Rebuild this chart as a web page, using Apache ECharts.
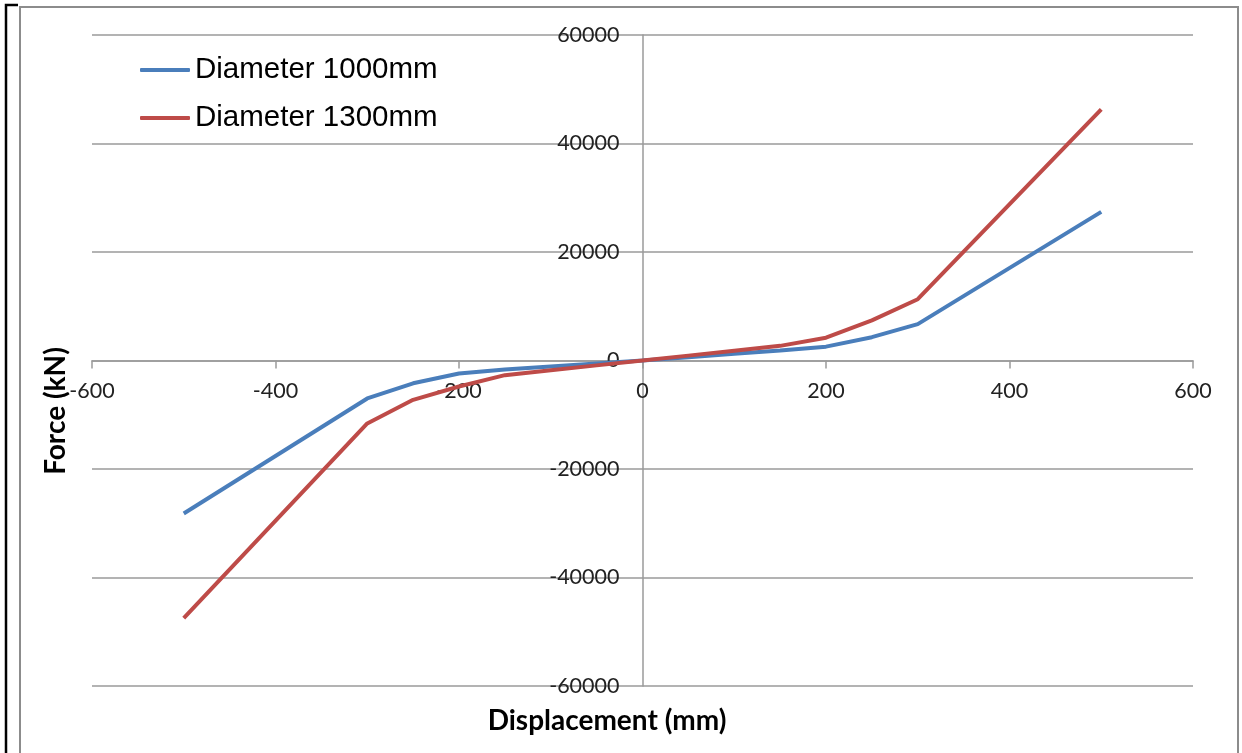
<!DOCTYPE html>
<html>
<head>
<meta charset="utf-8">
<script src="https://cdn.jsdelivr.net/npm/echarts@6/dist/echarts.min.js"></script>
<style>
html,body{margin:0;padding:0;background:#fff;}
#c{width:1242px;height:753px;}
</style>
</head>
<body>
<div id="c"></div>
<script>
var displacement = [-500, -300, -250, -200, -150, -100, -50, 0, 50, 100, 150, 200, 250, 300, 500];
var force1000 = [-28200, -7000, -4200, -2400, -1650, -1100, -550, 0, 600, 1250, 1850, 2550, 4300, 6700, 27400];
var force1300 = [-47500, -11600, -7250, -4800, -2700, -1800, -900, 0, 900, 1800, 2700, 4200, 7400, 11300, 46300];
var seriesNames = ['Diameter 1000mm', 'Diameter 1300mm'];
var xTitle = 'Displacement (mm)';
var yTitle = 'Force (kN)';

function pairs(ys){ return displacement.map(function(x,i){ return [x, ys[i]]; }); }

var chart = echarts.init(document.getElementById('c'), null, {renderer:'canvas'});
var axisFont = 'Lato, "Liberation Sans", sans-serif';
var gl = 92, gr = 49, gt = 35, gb = 67;
var W = 1242, H = 753;
var plotW = W - gl - gr, plotH = H - gt - gb;
chart.setOption({
  backgroundColor: '#ffffff',
  animation: false,
  grid: {left: gl, right: gr, top: gt, bottom: gb, containLabel: false, outerBoundsMode: 'none'},
  legend: {
    data: seriesNames,
    left: 140, top: 55, padding: 0,
    orient: 'vertical',
    icon: 'roundRect',
    itemWidth: 50, itemHeight: 4, itemGap: 18,
    textStyle: {fontFamily: '"Liberation Sans", Arial, sans-serif', fontSize: 29.5, color: '#000', lineHeight: 30}
  },
  xAxis: {
    type: 'value', min: -600, max: 600, interval: 200,
    position: 'bottom', offset: -plotH/2,
    axisLine: {onZero: false, lineStyle: {color: '#9a9a9a', width: 1.5}},
    axisTick: {show: true, length: 8, lineStyle: {color: '#9a9a9a', width: 1.5}},
    axisLabel: {margin: 20, fontFamily: axisFont, fontSize: 21.5, color: '#222', formatter: function(v){ return String(v); }},
    splitLine: {show: false}
  },
  yAxis: {
    type: 'value', min: -60000, max: 60000, interval: 20000,
    position: 'left', offset: -plotW/2,
    axisLine: {show: true, onZero: false, lineStyle: {color: '#9a9a9a', width: 1.5}},
    axisTick: {show: false},
    axisLabel: {margin: 23, fontFamily: axisFont, fontSize: 21.5, color: '#222', formatter: function(v){ return String(v); }},
    splitLine: {show: true, lineStyle: {color: '#9a9a9a', width: 1.5}}
  },
  graphic: [
    {type: 'rect', shape: {x: 20, y: 7, width: 1218, height: 760}, style: {fill: null, stroke: '#8c8c8c', lineWidth: 2}, silent: true, z: -1},
    {type: 'polyline', shape: {points: [[6, 760], [6, 5], [18, 5]]}, style: {fill: null, stroke: '#000', lineWidth: 2.5}, silent: true},
    {type: 'text', x: 607, y: 721, style: {text: xTitle, fontFamily: axisFont, fontWeight: 'bold', fontSize: 28, fill: '#000', textAlign: 'center', textVerticalAlign: 'middle'}},
    {type: 'text', x: 56, y: 411, rotation: Math.PI/2, style: {text: yTitle, fontFamily: axisFont, fontWeight: 'bold', fontSize: 28, fill: '#000', textAlign: 'center', textVerticalAlign: 'middle'}}
  ],
  series: [
    {name: seriesNames[0], type: 'line', data: pairs(force1000), symbol: 'none', lineStyle: {color: '#4a7ebb', width: 4}, itemStyle: {color: '#4a7ebb'}},
    {name: seriesNames[1], type: 'line', data: pairs(force1300), symbol: 'none', lineStyle: {color: '#be4b48', width: 4}, itemStyle: {color: '#be4b48'}}
  ]
});
</script>
</body>
</html>
